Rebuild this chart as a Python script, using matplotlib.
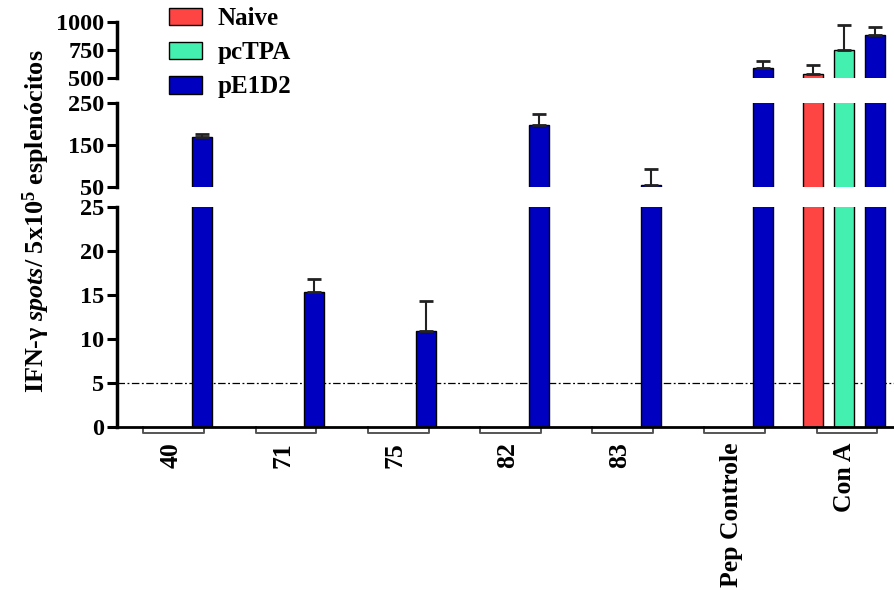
import matplotlib
matplotlib.use('Agg')
import matplotlib.pyplot as plt
from matplotlib.lines import Line2D
import matplotlib.transforms as mtransforms
import numpy as np

plt.rcParams['font.family'] = ['Liberation Serif', 'DejaVu Serif']
plt.rcParams['font.weight'] = 'bold'
plt.rcParams['mathtext.fontset'] = 'custom'
plt.rcParams['mathtext.rm'] = 'Liberation Serif:bold'
plt.rcParams['mathtext.it'] = 'Liberation Serif:italic:bold'
plt.rcParams['mathtext.bf'] = 'Liberation Serif:bold'

groups = ['40', '71', '75', '82', '83', 'Pep Controle', 'Con A']
series = ['Naive', 'pcTPA', 'pE1D2']
naive = [0, 0, 0, 0, 0, 0, 536]
naive_err = [0, 0, 0, 0, 0, 0, 83]
pctpa = [0, 0, 0, 0, 0, 0, 747]
pctpa_err = [0, 0, 0, 0, 0, 0, 229]
pe1d2 = [170, 15.3, 10.9, 197, 55, 589, 887]
pe1d2_err = [7, 1.5, 3.4, 27, 38, 63, 71]
colors = ['#FF4444', '#44F0B0', '#0000C0']
cutoff = 5

top_ticks = [500, 750, 1000]
mid_ticks = [50, 150, 250]
bot_ticks = [0, 5, 10, 15, 20, 25]

W, H = 894, 590
fig = plt.figure(figsize=(W / 100, H / 100), dpi=100)

def fy(px):
    return 1 - px / H

left = 117 / W
right = 1.0
ax_top = fig.add_axes([left, fy(78), right - left, fy(22) - fy(78)])
ax_mid = fig.add_axes([left, fy(187), right - left, fy(103) - fy(187)])
ax_bot = fig.add_axes([left, fy(427), right - left, fy(207) - fy(427)])

x = np.arange(len(groups))
off = 0.276
bw = 0.178
data = [(naive, naive_err), (pctpa, pctpa_err), (pe1d2, pe1d2_err)]

for ax, lim, ticks in [(ax_top, (500, 1000), top_ticks),
                       (ax_mid, (50, 250), mid_ticks),
                       (ax_bot, (0, 25), bot_ticks)]:
    for i, (vals, errs) in enumerate(data):
        xs = x + (i - 1) * off
        v = np.array(vals, dtype=float)
        e = np.array(errs, dtype=float)
        m = v > 0
        ax.bar(xs[m], v[m], width=bw, color=colors[i], edgecolor='black',
               linewidth=1.0, label=series[i], zorder=2)
        ax.errorbar(xs[m], v[m], yerr=[np.zeros(m.sum()), e[m]], fmt='none',
                    ecolor='#222222', elinewidth=1.5, capsize=5, capthick=2,
                    zorder=3)
    ax.set_ylim(*lim)
    ax.set_xlim(-0.481, 6.444)
    ax.set_yticks(ticks)
    ax.set_yticklabels([str(t) for t in ticks], fontsize=17.5, fontweight='bold')
    ax.tick_params(axis='y', direction='out', length=7, width=2.2, pad=2)
    for s in ['top', 'right', 'bottom']:
        ax.spines[s].set_visible(False)
    ax.spines['left'].set_linewidth(2.5)
    if ax is not ax_bot:
        ax.set_xticks([])

ax_bot.spines['bottom'].set_visible(True)
ax_bot.spines['bottom'].set_linewidth(2)
ax_bot.set_xticks(x)
ax_bot.set_xticklabels(groups, rotation=90, fontsize=18.5, fontweight='bold',
                       va='top', ha='center')
ax_bot.tick_params(axis='x', length=0, pad=11)
ax_bot.axhline(cutoff, color='black', linewidth=0.9,
               linestyle=(0, (6, 2, 1.5, 2)), zorder=1)

trans = mtransforms.blended_transform_factory(ax_bot.transData, ax_bot.transAxes)
yb = -6 / 220
for xi in x:
    x0, x1 = xi - off + 0.03, xi + off + 0.02
    ax_bot.add_line(Line2D([x0, x0, x1, x1], [0, yb, yb, 0], transform=trans,
                           color='#555555', linewidth=1.4, clip_on=False))

fig.legend(*ax_top.get_legend_handles_labels(), loc='upper left',
           bbox_to_anchor=(169 / W, fy(7)), frameon=False, fontsize=18,
           handlelength=1.3, handleheight=0.7, labelspacing=0.45,
           handletextpad=0.65, borderpad=0, borderaxespad=0)

fig.text(36 / W, fy(221), 'IFN-γ $\\mathit{spots}$/ 5x10$^{5}$ esplenócitos',
         rotation=90, ha='center', va='center', fontsize=18.8, fontweight='bold')

fig.savefig('out.png', dpi=100)
